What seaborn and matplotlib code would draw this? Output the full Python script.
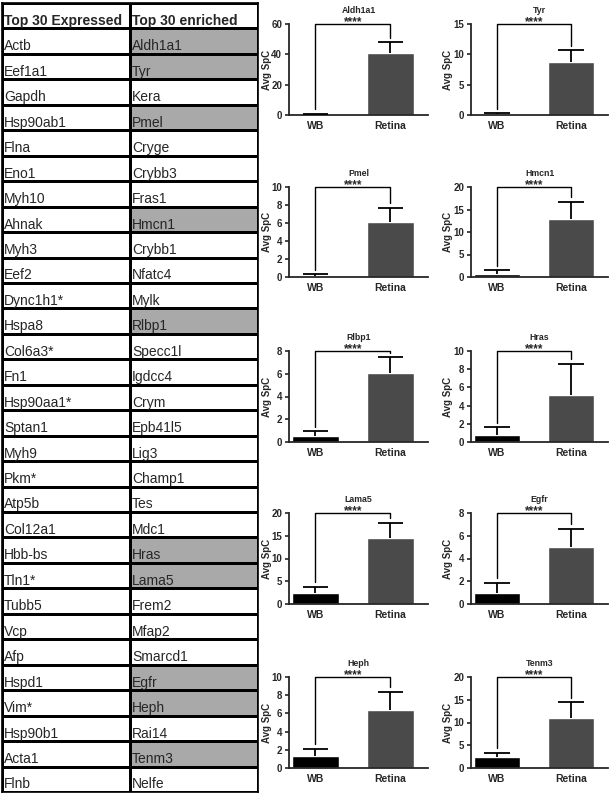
import matplotlib
matplotlib.use("Agg")
import matplotlib.pyplot as plt
from matplotlib.colors import ListedColormap
import seaborn as sns
import numpy as np
import pandas as pd

# table columns
expressed = ["Actb", "Eef1a1", "Gapdh", "Hsp90ab1", "Flna", "Eno1", "Myh10", "Ahnak",
             "Myh3", "Eef2", "Dync1h1*", "Hspa8", "Col6a3*", "Fn1", "Hsp90aa1*", "Sptan1",
             "Myh9", "Pkm*", "Atp5b", "Col12a1", "Hbb-bs", "Tln1*", "Tubb5", "Vcp", "Afp",
             "Hspd1", "Vim*", "Hsp90b1", "Acta1", "Flnb"]
enriched = ["Aldh1a1", "Tyr", "Kera", "Pmel", "Cryge", "Crybb3", "Fras1", "Hmcn1",
            "Crybb1", "Nfatc4", "Mylk", "Rlbp1", "Specc1l", "Igdcc4", "Crym", "Epb41l5",
            "Lig3", "Champ1", "Tes", "Mdc1", "Hras", "Lama5", "Frem2", "Mfap2", "Smarcd1",
            "Egfr", "Heph", "Rai14", "Tenm3", "Nelfe"]

# bar chart data
genes = ["Aldh1a1", "Tyr", "Pmel", "Hmcn1", "Rlbp1", "Hras", "Lama5", "Egfr", "Heph", "Tenm3"]
groups = ["WB", "Retina"]
wb_mean = [0.5, 0.2, 0.15, 0.6, 0.5, 0.8, 2.5, 1.0, 1.35, 2.4]
wb_sd = [0.4, 0.1, 0.15, 0.9, 0.45, 0.8, 1.3, 0.85, 0.75, 1.0]
retina_mean = [41, 8.7, 6.1, 12.9, 6.1, 5.2, 14.6, 5.05, 6.35, 10.9]
retina_sd = [7, 2.0, 1.6, 3.8, 1.35, 3.4, 3.3, 1.55, 2.0, 3.5]
ymax = [60, 15, 10, 20, 8, 10, 20, 8, 10, 20]
ystep = [20, 5, 2, 5, 2, 2, 5, 2, 2, 5]

sns.set_style("ticks")
plt.rcParams["font.family"] = ["Liberation Sans", "DejaVu Sans"]

W, H = 610, 794
fig = plt.figure(figsize=(W / 100, H / 100), dpi=100)

# ---- table (heatmap used for the cell grid / shading) ----
header = ["Top 30 Expressed", "Top 30 enriched"]
shade = np.zeros((len(expressed) + 1, 2))
shade[1:, 1] = [1 if g in genes else 0 for g in enriched]

tab_ax = fig.add_axes([2 / W, 1 - 792 / H, 256 / W, 789 / H])
sns.heatmap(shade, ax=tab_ax, cmap=ListedColormap(["white", "#a9a9a9"]), vmin=0, vmax=1,
            cbar=False, linewidths=0.9, linecolor="black",
            xticklabels=False, yticklabels=False)
for sp in tab_ax.spines.values():
    sp.set_visible(True)
    sp.set_linewidth(1.2)
    sp.set_color("black")

for j, h in enumerate(header):
    tab_ax.text(j + 0.015, 0.86, h, fontsize=10, fontweight="bold", va="baseline", ha="left")
for i, (a, b) in enumerate(zip(expressed, enriched)):
    tab_ax.text(0.015, i + 1.86, a, fontsize=10, va="baseline", ha="left")
    tab_ax.text(1.015, i + 1.86, b, fontsize=10, va="baseline", ha="left")

# ---- bar panels ----
col_x = [(289, 428), (471, 608)]
label_x = [267, 448]   # pixel x of the "Avg SpC" label per column
row_y = [(24, 115), (187, 277), (351, 442), (513, 604), (677, 768)]
colors = ["black", "#4a4a4a"]

for k, g in enumerate(genes):
    r, c = divmod(k, 2)
    x0, x1 = col_x[c]
    yt, yb = row_y[r]
    ax = fig.add_axes([x0 / W, 1 - yb / H, (x1 - x0) / W, (yb - yt) / H])

    means = [wb_mean[k], retina_mean[k]]
    sds = [wb_sd[k], retina_sd[k]]
    df = pd.DataFrame({"group": groups, "mean": means, "sd": sds})
    sns.barplot(data=df, x="group", y="mean", hue="group", palette=colors,
                width=0.62, legend=False, ax=ax, errorbar=None, saturation=1)

    # upper-only error bars (mean + SD)
    tops = df["mean"] + df["sd"]
    ax.vlines(range(2), df["mean"], tops, color="black", lw=1.3, zorder=3)
    ax.hlines(tops, np.arange(2) - 0.17, np.arange(2) + 0.17, color="black", lw=1.3, zorder=3)

    # significance bracket
    top = ymax[k]
    pad = 0.05 * top
    ax.plot([0, 0, 1, 1], [tops[0] + pad, top, top, tops[1] + pad],
            color="black", lw=1.0, clip_on=False)
    ax.annotate("****", xy=(0.5, top), xytext=(0, -1), textcoords="offset points",
                ha="center", va="baseline", fontsize=8.5, fontweight="bold")

    ax.set_xlim(-0.35, 1.5)
    ax.set_ylim(0, top)
    ax.set_yticks(np.arange(0, top + 0.01, ystep[k]))
    ax.set_title(g, fontsize=6.3, fontweight="bold", pad=8)
    ax.set_xlabel("")
    ax.set_ylabel("Avg SpC", fontsize=7, fontweight="bold", va="center")
    ax.yaxis.set_label_coords((label_x[c] - x0) / (x1 - x0), 0.5)
    ax.tick_params(axis="both", labelsize=7, width=1.2, length=3, pad=2)
    for lab in ax.get_xticklabels() + ax.get_yticklabels():
        lab.set_fontweight("bold")
    ax.tick_params(axis="x", labelsize=7.5, length=0, pad=4)
    sns.despine(ax=ax)
    for sp in ["left", "bottom"]:
        ax.spines[sp].set_linewidth(1.3)

fig.savefig("out.png", dpi=100, facecolor="white")
